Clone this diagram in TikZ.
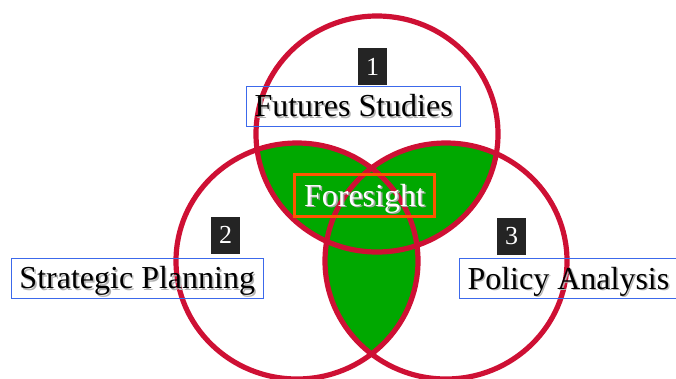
\documentclass[tikz,border=0pt]{standalone}
\usepackage{fontspec}
\setmainfont{Liberation Serif}

\definecolor{vennred}{RGB}{206,16,52}
\definecolor{venngreen}{RGB}{0,168,0}
\definecolor{boxblue}{RGB}{60,105,235}
\definecolor{frameorange}{RGB}{255,85,0}
\definecolor{tagblack}{RGB}{36,36,36}

% text with a soft drop shadow
\newcommand{\shadowed}[2]{\makebox[0pt][l]{\hspace{1.6pt}\raisebox{-1.6pt}{\textcolor{#2}{#1}}}#1}

\def\topset{(377,134) ellipse [x radius=121pt, y radius=118pt]}
\def\leftset{(297,261) ellipse [x radius=121pt, y radius=118pt]}
\def\rightset{(446,261) ellipse [x radius=121pt, y radius=118pt]}

\begin{document}
\begin{tikzpicture}
  [
    x = 1pt, y = -1pt,
    venn/.style     = {draw=vennred, line width=5.2pt},
    overlap/.style  = {fill=venngreen},
    tag/.style      = {fill=tagblack, text=white, inner sep=0pt,
                       minimum width=29pt, minimum height=37pt,
                       font=\fontsize{26}{30}\selectfont},
    labelbox/.style = {draw=boxblue, line width=1pt, anchor=west,
                       inner xsep=8pt, inner ysep=9.5pt,
                       text height=21pt, text depth=0pt,
                       font=\fontsize{32}{36}\selectfont},
    core/.style     = {draw=frameorange, line width=3.2pt, text=white,
                       inner xsep=9.5pt, inner ysep=10.5pt,
                       text height=21pt, text depth=0pt,
                       font=\fontsize{32}{36}\selectfont}
    ]
    \useasboundingbox (0,0) rectangle (676,378);

    % pairwise overlaps
    \begin{scope}
      \clip \topset;
      \fill [overlap] \leftset;
      \fill [overlap] \rightset;
    \end{scope}
    \begin{scope}
      \clip \leftset;
      \fill [overlap] \rightset;
    \end{scope}

    \draw [venn] \topset;
    \draw [venn] \leftset;
    \draw [venn] \rightset;

    \node [tag] (tag1) at (372.5,66.5) {1};
    \node [tag] (tag2) at (225.5,235) {2};
    \node [tag] (tag3) at (511.5,236.5) {3};

    \node [labelbox] (futures)   at (246,106)   {\shadowed{Futures Studies}{black!30}};
    \node [labelbox] (strategic) at (11,278)    {\shadowed{Strategic Planning}{black!30}};
    \node [labelbox] (policy)    at (459,278.5) {\shadowed{Policy Analysis}{black!30}};

    \node [core] (foresight) at (364.5,195.5) {\shadowed{Foresight}{black!35}};
\end{tikzpicture}
\end{document}
